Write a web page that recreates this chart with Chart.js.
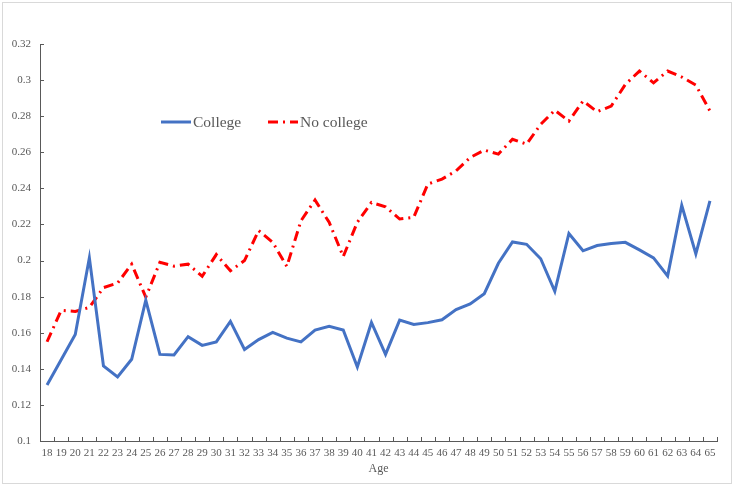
<!DOCTYPE html>
<html>
<head>
<meta charset="utf-8">
<script src="https://cdn.jsdelivr.net/npm/chart.js@4/dist/chart.umd.min.js"></script>
<style>
html,body{margin:0;padding:0;background:#fff;}
#wrap{position:absolute;left:0;top:0;width:733px;height:485px;}
</style>
</head>
<body>
<div id="wrap"><canvas id="c" width="733" height="485"></canvas></div>
<script>
const ages = [18,19,20,21,22,23,24,25,26,27,28,29,30,31,32,33,34,35,36,37,38,39,40,41,42,43,44,45,46,47,48,49,50,51,52,53,54,55,56,57,58,59,60,61,62,63,64,65];
const college = [0.131,0.145,0.159,0.2015,0.1416,0.1355,0.1453,0.178,0.148,0.1477,0.1578,0.153,0.1549,0.1663,0.1507,0.1562,0.1602,0.157,0.1549,0.1615,0.1635,0.1615,0.141,0.1657,0.148,0.167,0.1646,0.1656,0.1672,0.1728,0.176,0.1816,0.1985,0.2103,0.209,0.201,0.1829,0.215,0.2054,0.2083,0.2094,0.2101,0.2059,0.2015,0.1915,0.2306,0.2037,0.2331];
const noCollege = [0.155,0.1724,0.1718,0.174,0.185,0.1875,0.198,0.1797,0.199,0.1969,0.198,0.1913,0.2033,0.1943,0.2,0.2166,0.2101,0.1967,0.222,0.2335,0.2212,0.2022,0.2212,0.2322,0.2298,0.223,0.224,0.2424,0.2451,0.2497,0.2571,0.2612,0.259,0.2672,0.2645,0.2755,0.2833,0.2773,0.2884,0.2825,0.2856,0.2976,0.305,0.2985,0.305,0.3017,0.2972,0.2829];
const yTicks = [0.1,0.12,0.14,0.16,0.18,0.2,0.22,0.24,0.26,0.28,0.3,0.32];
const seriesNames = ['College','No college'];

const FONT = "'Liberation Serif','Times New Roman',serif";
const TXT = '#595959';
const AXIS = '#595959';

const framePlugin = {
  id:'frame',
  beforeDraw(chart){
    const ctx = chart.ctx;
    ctx.save();
    ctx.fillStyle='#fff';
    ctx.fillRect(0,0,chart.width,chart.height);
    ctx.strokeStyle='#d9d9d9';
    ctx.lineWidth=1;
    ctx.strokeRect(2.5,2.5,chart.width-4,chart.height-4);
    ctx.restore();
  }
};

const innerTicks = {
  id:'innerTicks',
  afterDraw(chart){
    const ctx = chart.ctx;
    const x = chart.scales.x, y = chart.scales.y;
    ctx.save();
    ctx.strokeStyle = AXIS;
    ctx.lineWidth = 1;
    ctx.beginPath();
    y.ticks.forEach((t,i)=>{
      const py = Math.round(y.getPixelForTick(i))+0.5;
      ctx.moveTo(x.left, py); ctx.lineTo(x.left+4, py);
    });
    const n = ages.length;
    for(let i=0;i<=n;i++){
      const px = Math.round(x.getPixelForValue(i-0.5))+0.5;
      ctx.moveTo(px, y.bottom); ctx.lineTo(px, y.bottom-4);
    }
    ctx.stroke();
    ctx.restore();
  }
};

const legendPlugin = {
  id:'customLegend',
  afterDraw(chart){
    const ctx = chart.ctx;
    const ca = chart.chartArea;
    const ly = ca.top + 78;
    ctx.save();
    ctx.font = "15.5px " + FONT;
    ctx.textBaseline = 'middle';
    ctx.fillStyle = TXT;
    const ds = chart.data.datasets;
    const items = [{x0: ca.left+121, ds: ds[0]},{x0: ca.left+228, ds: ds[1]}];
    items.forEach(it=>{
      ctx.beginPath();
      ctx.strokeStyle = it.ds.borderColor;
      ctx.lineWidth = it.ds.borderWidth;
      ctx.setLineDash(it.ds.borderDash || []);
      ctx.moveTo(it.x0, ly); ctx.lineTo(it.x0+30, ly);
      ctx.stroke();
      ctx.setLineDash([]);
      ctx.fillText(it.ds.label, it.x0+32, ly+1);
    });
    ctx.restore();
  }
};

new Chart(document.getElementById('c'), {
  type:'line',
  data:{
    labels: ages,
    datasets:[
      {label: seriesNames[0], data: college, borderColor:'#4472C4', borderWidth:3, pointRadius:0, tension:0, fill:false},
      {label: seriesNames[1], data: noCollege, borderColor:'#FF0000', borderWidth:3, borderDash:[10,5,2,5], pointRadius:0, tension:0, fill:false}
    ]
  },
  options:{
    responsive:false,
    animation:false,
    devicePixelRatio:1,
    layout:{padding:{left:0, right:16, top:44, bottom:9}},
    plugins:{legend:{display:false}, tooltip:{enabled:false}},
    scales:{
      x:{
        type:'category',
        offset:true,
        grid:{display:false, drawTicks:false},
        border:{display:true, color:AXIS, width:1},
        ticks:{font:{family:FONT, size:11}, color:TXT, padding:6, maxRotation:0, minRotation:0, autoSkip:false},
        title:{display:true, text:'Age', font:{family:FONT, size:12}, color:TXT, padding:{top:2,bottom:0}},
        afterFit(s){ s.height = 35; }
      },
      y:{
        min:0.1, max:0.32,
        afterBuildTicks(s){ s.ticks = yTicks.map(v=>({value:v})); },
        grid:{display:false, drawTicks:false},
        border:{display:true, color:AXIS, width:1},
        ticks:{font:{family:FONT, size:11}, color:TXT, padding:9, callback:(v)=>String(+v.toFixed(2))},
        afterFit(s){ s.width = 40; }
      }
    }
  },
  plugins:[framePlugin, innerTicks, legendPlugin]
});
</script>
</body>
</html>
